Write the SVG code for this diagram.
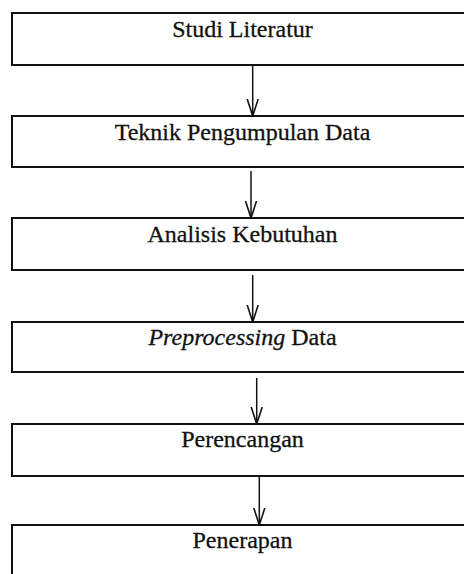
<svg xmlns="http://www.w3.org/2000/svg" width="464" height="574" viewBox="0 0 464 574">
<style>
.box{fill:#fff;stroke:#111;stroke-width:2}
.lbl{font-family:"Liberation Serif","Times New Roman",serif;font-size:24px;fill:#111;text-anchor:middle;stroke:#111;stroke-width:0.3}
.con{stroke:#111;stroke-width:1.5;fill:none}
</style>
<defs>
<marker id="ah" markerWidth="18" markerHeight="14" refX="17" refY="7" orient="auto" markerUnits="userSpaceOnUse" viewBox="0 0 18 14">
<path d="M0,1.5 L17,7 L0,12.5" fill="none" stroke="#111" stroke-width="1.6"/>
</marker>
</defs>
<rect width="464" height="574" fill="#fff"/>
<g id="n1"><rect class="box" x="12" y="13" width="470" height="52"/><text class="lbl" x="242.5" y="36.5">Studi Literatur</text></g>
<g id="n2"><rect class="box" x="12" y="116" width="470" height="51"/><text class="lbl" x="242.5" y="140">Teknik Pengumpulan Data</text></g>
<g id="n3"><rect class="box" x="12" y="218" width="470" height="52"/><text class="lbl" x="242.5" y="242">Analisis Kebutuhan</text></g>
<g id="n4"><rect class="box" x="12" y="322" width="470" height="50"/><text class="lbl" x="242.5" y="345"><tspan font-style="italic">Preprocessing</tspan> Data</text></g>
<g id="n5"><rect class="box" x="12" y="424" width="470" height="52"/><text class="lbl" x="242.5" y="447">Perencangan</text></g>
<g id="n6"><rect class="box" x="12" y="525" width="470" height="60"/><text class="lbl" x="242.5" y="548">Penerapan</text></g>
<g id="connectors">
<line class="con" x1="252.7" y1="66" x2="252.7" y2="116" marker-end="url(#ah)"/>
<line class="con" x1="251" y1="171" x2="251" y2="218" marker-end="url(#ah)"/>
<line class="con" x1="252.7" y1="275" x2="252.7" y2="322" marker-end="url(#ah)"/>
<line class="con" x1="256.7" y1="378" x2="256.7" y2="424" marker-end="url(#ah)"/>
<line class="con" x1="259.3" y1="477" x2="259.3" y2="525" marker-end="url(#ah)"/>
</g>
</svg>
